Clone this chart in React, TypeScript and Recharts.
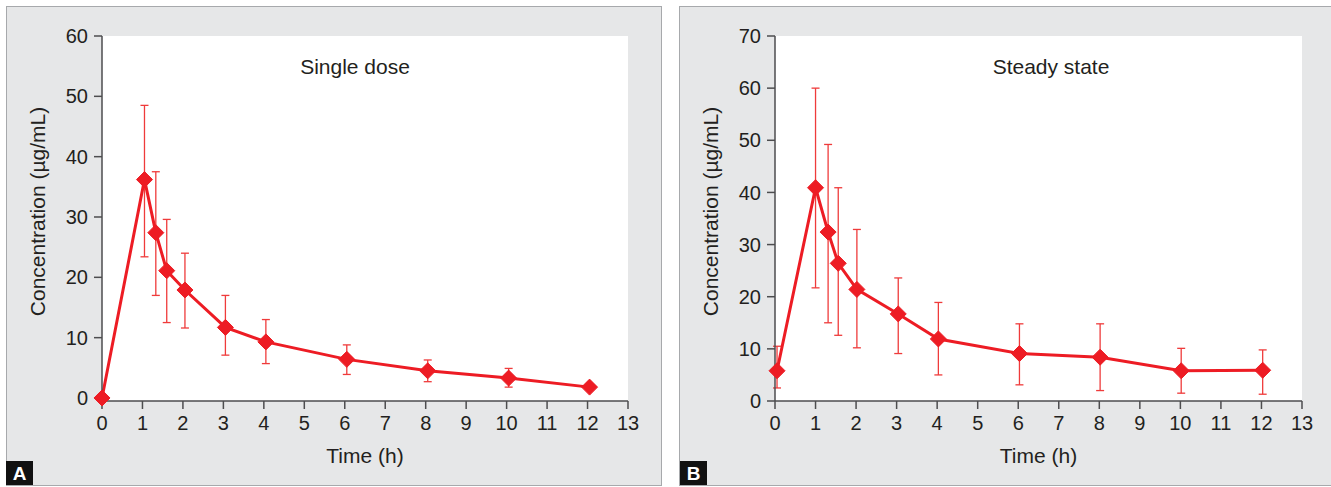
import { ComposedChart, Line, XAxis, YAxis, ErrorBar, CartesianGrid } from 'recharts';

const FONT = '"Liberation Sans", Arial, Helvetica, sans-serif';
const RED = '#ed1c24';
const BAR_RED = '#ef3b3b';
const INK = '#231f20';
const AXIS = '#4d4d4f';
const PANEL_BG = '#e6e7e8';
const PANEL_BORDER = '#a7a9ac';

const timeTicks = [0, 1, 2, 3, 4, 5, 6, 7, 8, 9, 10, 11, 12, 13];

// A: single dose
const singleTime = [0, 1.05, 1.33, 1.6, 2.05, 3.05, 4.05, 6.05, 8.05, 10.05, 12.05];
const singleMean = [0, 36.2, 27.4, 21.1, 17.9, 11.7, 9.3, 6.4, 4.5, 3.3, 1.8];
const singleUpper = [0, 48.5, 37.5, 29.6, 24.0, 17.0, 13.0, 8.8, 6.3, 4.9, 1.8];
const singleLower = [0, 23.4, 17.0, 12.5, 11.6, 7.1, 5.7, 3.9, 2.7, 1.8, 1.8];
const singleTicks = [0, 10, 20, 30, 40, 50, 60];

// B: steady state
const steadyTime = [0.05, 1.0, 1.31, 1.56, 2.02, 3.04, 4.03, 6.03, 8.02, 10.02, 12.03];
const steadyMean = [5.8, 40.9, 32.4, 26.4, 21.4, 16.7, 11.9, 9.1, 8.4, 5.8, 5.9];
const steadyUpper = [10.5, 60.0, 49.2, 40.9, 32.9, 23.6, 18.9, 14.8, 14.8, 10.1, 9.8];
const steadyLower = [2.5, 21.7, 15.0, 12.6, 10.2, 9.1, 5.0, 3.1, 2.0, 1.5, 1.3];
const steadyTicks = [0, 10, 20, 30, 40, 50, 60, 70];

function buildRows(time: number[], mean: number[], upper: number[], lower: number[]) {
  return time.map((t, i) => ({
    t,
    mean: mean[i],
    err: [mean[i] - lower[i], upper[i] - mean[i]],
  }));
}

function Diamond(props: any) {
  const { cx, cy, index } = props;
  if (cx == null || cy == null) return <g key={index} />;
  const r = 8;
  return (
    <polygon
      key={index}
      points={`${cx},${cy - r} ${cx + r},${cy} ${cx},${cy + r} ${cx - r},${cy}`}
      fill={RED}
      stroke={RED}
      strokeWidth={1}
    />
  );
}

function YLabel(props: any) {
  const vb = props.viewBox || { x: 0, y: 0, width: 0, height: 0 };
  const x = vb.x + vb.width - 57;
  const y = vb.y + vb.height / 2 - 7;
  return (
    <text
      x={x}
      y={y}
      transform={`rotate(-90 ${x} ${y})`}
      textAnchor="middle"
      fontSize={21}
      fontFamily={FONT}
      fill={INK}
    >
      Concentration (µg/mL)
    </text>
  );
}

interface PanelProps {
  left: number;
  width: number;
  marginLeft: number;
  marginRight: number;
  rows: { t: number; mean: number; err: number[] }[];
  yDomain: [number, number];
  yTicks: number[];
}

function PanelChart({ left, width, marginLeft, marginRight, rows, yDomain, yTicks }: PanelProps) {
  const tickStyle = { fontSize: 20, fill: INK, fontFamily: FONT };
  return (
    <div style={{ position: 'absolute', left, top: 0 }}>
      <ComposedChart
        width={width}
        height={487}
        data={rows}
        margin={{ top: 36, right: marginRight, bottom: 56, left: marginLeft }}
      >
        <CartesianGrid horizontal={false} vertical={false} fill="#ffffff" stroke="none" />
        <XAxis
          dataKey="t"
          type="number"
          domain={[0, 13]}
          ticks={timeTicks}
          interval={0}
          height={30}
          tick={tickStyle}
          tickSize={8}
          tickMargin={7}
          axisLine={{ stroke: AXIS, strokeWidth: 1.5 }}
          tickLine={{ stroke: AXIS, strokeWidth: 1.5 }}
          label={{ value: 'Time (h)', position: 'bottom', offset: 17, fontSize: 21, fontFamily: FONT, fill: INK }}
        />
        <YAxis
          type="number"
          domain={yDomain}
          ticks={yTicks}
          interval={0}
          width={60}
          tick={tickStyle}
          tickSize={8}
          tickMargin={6}
          axisLine={{ stroke: AXIS, strokeWidth: 1.5 }}
          tickLine={{ stroke: AXIS, strokeWidth: 1.5 }}
          label={<YLabel />}
        />
        <Line
          type="linear"
          dataKey="mean"
          stroke={RED}
          strokeWidth={3}
          dot={Diamond}
          activeDot={false}
          isAnimationActive={false}
        >
          <ErrorBar dataKey="err" width={4} stroke={BAR_RED} strokeWidth={1.3} direction="y" />
        </Line>
      </ComposedChart>
    </div>
  );
}

const boxStyle = (left: number, width: number): React.CSSProperties => ({
  position: 'absolute',
  left,
  top: 6,
  width,
  height: 480,
  boxSizing: 'border-box',
  background: PANEL_BG,
  border: `1px solid ${PANEL_BORDER}`,
});

const titleStyle = (center: number): React.CSSProperties => ({
  position: 'absolute',
  left: center - 100,
  width: 200,
  top: 56,
  textAlign: 'center',
  fontSize: 21,
  lineHeight: '21px',
  fontFamily: FONT,
  color: INK,
});

const tagStyle = (left: number): React.CSSProperties => ({
  position: 'absolute',
  left,
  top: 461,
  width: 27,
  height: 24,
  background: '#111',
  color: '#fff',
  fontFamily: FONT,
  fontWeight: 'bold',
  fontSize: 19,
  lineHeight: '25px',
  textAlign: 'center',
});

export default function App() {
  const singleRows = buildRows(singleTime, singleMean, singleUpper, singleLower);
  const steadyRows = buildRows(steadyTime, steadyMean, steadyUpper, steadyLower);
  return (
    <div
      style={{
        position: 'absolute',
        left: 0,
        top: 0,
        width: 1331,
        height: 487,
        overflow: 'hidden',
        background: '#ffffff',
      }}
    >
      <div style={boxStyle(6, 656)} />
      <div style={boxStyle(679, 660)} />
      <PanelChart
        left={0}
        width={661}
        marginLeft={42}
        marginRight={33}
        rows={singleRows}
        yDomain={[-0.5, 60]}
        yTicks={singleTicks}
      />
      <PanelChart
        left={679}
        width={652}
        marginLeft={36}
        marginRight={29}
        rows={steadyRows}
        yDomain={[0, 70]}
        yTicks={steadyTicks}
      />
      <div style={titleStyle(355)}>Single dose</div>
      <div style={titleStyle(1051)}>Steady state</div>
      <div style={tagStyle(6)}>A</div>
      <div style={tagStyle(680)}>B</div>
    </div>
  );
}
